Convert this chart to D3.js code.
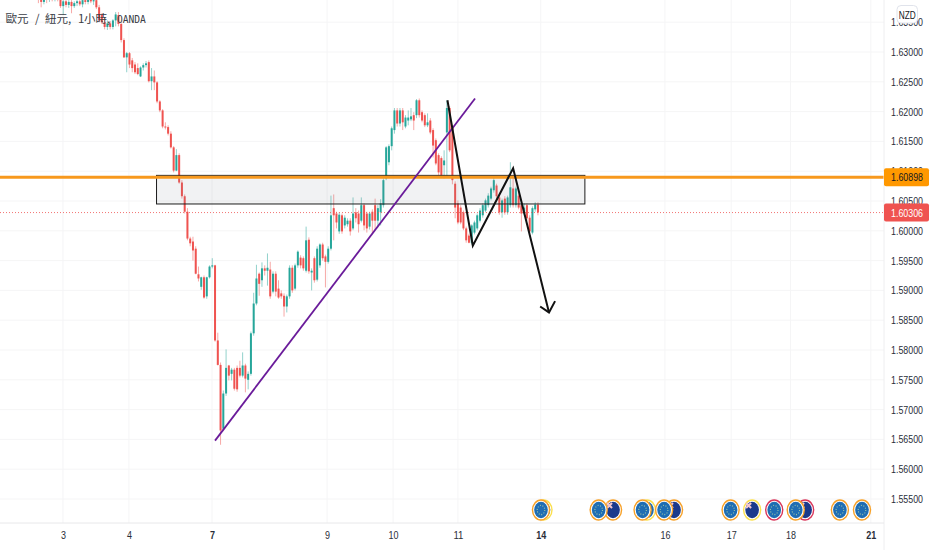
<!DOCTYPE html>
<html>
<head>
<meta charset="utf-8">
<style>
	html, body { margin: 0; padding: 0; background: #fff; overflow: hidden; }
	svg { display: block; }
	text { font-family: "Liberation Sans", sans-serif; }
</style>
<script src="https://cdn.jsdelivr.net/npm/d3@7"></script>
</head>
<body>
<div id="container"></div>
<script>
var titleParts = ["歐元", "/", "紐元,", "1", "小時,", "OANDA"];
var currency = "NZD";

var opens = [
	1.6397,1.6390,1.6384,1.6392,1.6389,1.6394,1.6390,1.6395,1.6392,1.6377,
	1.6385,1.6379,1.6384,1.6377,1.6382,1.6385,1.6380,1.6387,1.6384,1.6389,
	1.6385,1.6387,1.6375,1.6362,1.6350,1.6342,1.6348,1.6342,1.6353,1.6362,
	1.6347,1.6320,1.6291,1.6298,1.6286,1.6279,1.6273,1.6259,1.6274,1.6278,
	1.6283,1.6251,1.6259,1.6249,1.6217,1.6202,1.6175,1.6174,1.6163,1.6140,
	1.6101,1.6127,1.6081,1.6058,1.6032,1.5987,1.5982,1.5970,1.5927,1.5906,
	1.5922,1.5890,1.5922,1.5940,1.5942,1.5816,1.5775,1.5668,1.5727,1.5774,
	1.5760,1.5767,1.5770,1.5770,1.5757,1.5774,1.5750,1.5760,1.5828,1.5878,
	1.5928,1.5917,1.5937,1.5933,1.5935,1.5898,1.5928,1.5903,1.5895,1.5891,
	1.5873,1.5890,1.5938,1.5903,1.5942,1.5955,1.5954,1.5933,1.5985,1.5930,
	1.5954,1.5918,1.5942,1.5977,1.5957,1.5948,1.5970,1.6038,1.6029,1.5999,
	1.6026,1.6009,1.6011,1.6017,1.6004,1.6031,1.6029,1.6017,1.6043,1.6029,
	1.6007,1.6032,1.6043,1.6017,1.6031,1.6043,1.6088,1.6115,1.6142,1.6169,
	1.6202,1.6180,1.6202,1.6175,1.6185,1.6187,1.6194,1.6194,1.6219,1.6199,
	1.6194,1.6177,1.6185,1.6169,1.6152,1.6127,1.6122,1.6110,1.6165,1.6206,
	1.6174,1.6079,1.6046,1.6039,1.6031,1.6004,1.5992,1.5980,1.5997,1.6004,
	1.6017,1.6026,1.6034,1.6043,1.6054,1.6068,1.6076,1.6056,1.6031,1.6054,
	1.6031,1.6043,1.6071,1.6043,1.6059,1.6043,1.6029,1.6043,1.6022,1.5997,1.6036,1.6044
];
var closes = [
	1.6390,1.6384,1.6392,1.6389,1.6394,1.6390,1.6395,1.6392,1.6377,1.6385,
	1.6379,1.6384,1.6377,1.6382,1.6385,1.6380,1.6387,1.6384,1.6389,1.6385,
	1.6387,1.6375,1.6353,1.6350,1.6342,1.6348,1.6342,1.6353,1.6363,1.6347,
	1.6320,1.6291,1.6298,1.6279,1.6273,1.6266,1.6263,1.6274,1.6278,1.6281,
	1.6251,1.6259,1.6249,1.6217,1.6202,1.6175,1.6174,1.6163,1.6140,1.6101,
	1.6127,1.6081,1.6058,1.6032,1.5987,1.5979,1.5967,1.5928,1.5920,1.5922,
	1.5888,1.5922,1.5940,1.5942,1.5816,1.5775,1.5665,1.5727,1.5770,1.5757,
	1.5767,1.5735,1.5734,1.5757,1.5774,1.5752,1.5760,1.5828,1.5878,1.5920,
	1.5911,1.5937,1.5933,1.5938,1.5890,1.5928,1.5898,1.5888,1.5890,1.5873,
	1.5890,1.5938,1.5900,1.5942,1.5965,1.5942,1.5937,1.5984,1.5932,1.5933,
	1.5917,1.5970,1.5977,1.5954,1.5948,1.5970,1.6026,1.6026,1.6014,1.6027,
	1.5999,1.6022,1.6017,1.5999,1.6029,1.6021,1.6011,1.6043,1.6009,1.6004,
	1.6029,1.6017,1.6017,1.6038,1.6046,1.6085,1.6140,1.6142,1.6172,1.6202,
	1.6180,1.6202,1.6182,1.6190,1.6190,1.6192,1.6185,1.6219,1.6194,1.6185,
	1.6177,1.6182,1.6165,1.6143,1.6113,1.6098,1.6093,1.6118,1.6206,1.6135,
	1.6085,1.6039,1.6014,1.6014,1.6004,1.5984,1.5980,1.6009,1.6014,1.6026,
	1.6034,1.6043,1.6051,1.6059,1.6071,1.6085,1.6058,1.6031,1.6051,1.6031,
	1.6056,1.6073,1.6043,1.6071,1.6039,1.6029,1.6039,1.6021,1.5999,1.6038,1.6044,1.60306
];
var highs = [
	1.6402,1.6395,1.6395,1.6397,1.6400,1.6399,1.6400,1.6399,1.6395,1.6389,
	1.6389,1.6387,1.6387,1.6385,1.6390,1.6389,1.6390,1.6392,1.6392,1.6394,
	1.6390,1.6390,1.6379,1.6365,1.6357,1.6353,1.6352,1.6355,1.6367,1.6367,
	1.6350,1.6323,1.6300,1.6300,1.6290,1.6283,1.6281,1.6276,1.6281,1.6285,
	1.6286,1.6273,1.6269,1.6251,1.6219,1.6204,1.6182,1.6177,1.6167,1.6142,
	1.6137,1.6130,1.6085,1.6061,1.6038,1.5990,1.5990,1.5974,1.5940,1.5923,
	1.5925,1.5923,1.5942,1.5954,1.5943,1.5829,1.5779,1.5732,1.5801,1.5775,
	1.5770,1.5770,1.5774,1.5782,1.5796,1.5777,1.5764,1.5831,1.5896,1.5943,
	1.5930,1.5947,1.5942,1.5962,1.5948,1.5932,1.5932,1.5917,1.5900,1.5895,
	1.5893,1.5942,1.5942,1.5945,1.5967,1.5959,1.5957,1.6007,1.5989,1.5937,
	1.5957,1.5974,1.5979,1.5980,1.5960,1.5974,1.6059,1.6061,1.6032,1.6031,
	1.6029,1.6026,1.6021,1.6021,1.6056,1.6038,1.6034,1.6056,1.6046,1.6032,
	1.6032,1.6036,1.6054,1.6043,1.6053,1.6088,1.6142,1.6145,1.6175,1.6206,
	1.6206,1.6206,1.6206,1.6194,1.6202,1.6206,1.6199,1.6221,1.6222,1.6202,
	1.6197,1.6197,1.6189,1.6172,1.6155,1.6130,1.6125,1.6135,1.6219,1.6209,
	1.6177,1.6083,1.6051,1.6043,1.6034,1.6007,1.5995,1.6011,1.6017,1.6029,
	1.6038,1.6046,1.6054,1.6063,1.6074,1.6090,1.6079,1.6059,1.6054,1.6058,
	1.6059,1.6115,1.6091,1.6074,1.6063,1.6046,1.6046,1.6046,1.6026,1.6041,1.6048,1.6048
];
var lows = [
	1.6382,1.6375,1.6380,1.6382,1.6384,1.6385,1.6385,1.6385,1.6374,1.6362,
	1.6375,1.6374,1.6365,1.6374,1.6377,1.6377,1.6375,1.6380,1.6380,1.6382,
	1.6379,1.6372,1.6350,1.6347,1.6338,1.6337,1.6338,1.6338,1.6343,1.6343,
	1.6316,1.6290,1.6266,1.6273,1.6266,1.6263,1.6261,1.6258,1.6269,1.6274,
	1.6249,1.6236,1.6236,1.6214,1.6199,1.6172,1.6170,1.6160,1.6138,1.6098,
	1.6100,1.6079,1.6054,1.6029,1.5984,1.5974,1.5950,1.5927,1.5915,1.5901,
	1.5886,1.5886,1.5920,1.5937,1.5814,1.5774,1.5641,1.5665,1.5723,1.5749,
	1.5749,1.5732,1.5730,1.5754,1.5754,1.5729,1.5734,1.5757,1.5824,1.5875,
	1.5891,1.5906,1.5925,1.5908,1.5886,1.5895,1.5890,1.5886,1.5886,1.5856,
	1.5863,1.5886,1.5896,1.5900,1.5938,1.5937,1.5933,1.5930,1.5928,1.5900,
	1.5913,1.5915,1.5938,1.5950,1.5905,1.5945,1.5967,1.5984,1.6004,1.5995,
	1.5995,1.6004,1.6007,1.5992,1.6001,1.6014,1.5997,1.6014,1.6001,1.5997,
	1.6002,1.5995,1.6001,1.6006,1.6009,1.6039,1.6085,1.6110,1.6135,1.6163,
	1.6175,1.6175,1.6169,1.6172,1.6177,1.6184,1.6169,1.6189,1.6190,1.6182,
	1.6174,1.6174,1.6162,1.6123,1.6110,1.6093,1.6091,1.6088,1.6091,1.6132,
	1.6078,1.6021,1.6011,1.6011,1.6001,1.5980,1.5979,1.5977,1.5994,1.6001,
	1.6014,1.6022,1.6031,1.6039,1.6051,1.6064,1.6054,1.6027,1.6022,1.6027,
	1.6027,1.6039,1.6039,1.6039,1.6036,1.5999,1.6026,1.6017,1.5995,1.5994,1.6032,1.6026
];

var priceTicks = [1.635,1.63,1.625,1.62,1.615,1.61,1.605,1.6,1.595,1.59,1.585,1.58,1.575,1.57,1.565,1.56,1.555];
var dayLabels = ["3","4","7","9","10","11","14","16","17","18","21"];
var dayBars = [8.9,32.8,62.9,104.6,128.5,152,182,227,251,272.5,301.6];
var boldDays = ["7","14","21"];

var levelPrice = 1.60898;
var lastPrice = 1.60306;
var zoneBars = [42.8,198];
var zonePrices = [1.6093,1.6045];
var trendBars = [64,158.2];
var trendPrices = [1.5648,1.6222];
var waveBars = [148.2,157.4,172,185];
var wavePrices = [1.6219,1.5975,1.6105,1.5863];
var arrowBars = [181.8,185,187.2];
var arrowPrices = [1.5873,1.5863,1.5882];

var eventBars = [183,182.1,208.2,203,220.5,218.9,230.3,226.7,250.8,258.6,266.6,277.8,274.4,290.4,298.4];
var eventKinds = ["eu","eu","nz","eu","eu","eu","nz","eu","eu","nz","eu","nz","eu","eu","eu"];
var eventImpact = ["low","mid","mid","mid","low","mid","mid","mid","mid","low","high","high","mid","mid","mid"];

var w = 932, h = 550, paneRight = 884, paneBottom = 523;
var up = "#26a69a", down = "#ef5350";
var impactColor = { low: "#fbe04e", mid: "#f7a128", high: "#d9365a" };
var titleX = [5.5, 35, 45, 78, 84, 117];

var x = d3.scaleLinear().domain([-14,307]).range([-0.24,885.72]);
var y = d3.scaleLinear().domain([1.555,1.63]).range([499,52]);

var svg = d3.select("#container")
	.append("svg")
	.attr("width", w)
	.attr("height", h)
	.attr("viewBox", "0 0 " + w + " " + h);

// grid
svg.append("g").selectAll("line")
	.data(priceTicks)
	.enter()
	.append("line")
	.attr("x1", 0)
	.attr("x2", paneRight)
	.attr("y1", function(d) { return y(d); })
	.attr("y2", function(d) { return y(d); })
	.attr("stroke", "#f5f5f6");
svg.append("g").selectAll("line")
	.data(dayBars)
	.enter()
	.append("line")
	.attr("x1", function(d) { return x(d); })
	.attr("x2", function(d) { return x(d); })
	.attr("y1", 0)
	.attr("y2", paneBottom)
	.attr("stroke", "#f5f5f6");

// candles
var bars = d3.range(opens.length);
var candles = svg.append("g");
candles.selectAll("line")
	.data(bars)
	.enter()
	.append("line")
	.attr("x1", function(i) { return x(i); })
	.attr("x2", function(i) { return x(i); })
	.attr("y1", function(i) { return y(highs[i]); })
	.attr("y2", function(i) { return y(lows[i]); })
	.attr("stroke", function(i) { return closes[i] >= opens[i] ? up : down; })
	.attr("stroke-opacity", 0.5);
candles.selectAll("rect")
	.data(bars)
	.enter()
	.append("rect")
	.attr("x", function(i) { return x(i) - 1; })
	.attr("width", 2)
	.attr("y", function(i) { return y(Math.max(opens[i], closes[i])); })
	.attr("height", function(i) { return Math.max(1, Math.abs(y(opens[i]) - y(closes[i]))); })
	.attr("fill", function(i) { return closes[i] >= opens[i] ? up : down; });

// last price line
svg.append("line")
	.attr("x1", 0)
	.attr("x2", paneRight)
	.attr("y1", y(lastPrice))
	.attr("y2", y(lastPrice))
	.attr("stroke", down)
	.attr("stroke-dasharray", "1 2")
	.attr("stroke-opacity", 0.8);

// drawings
svg.append("rect")
	.attr("x", x(zoneBars[0]))
	.attr("y", y(zonePrices[0]))
	.attr("width", x(zoneBars[1]) - x(zoneBars[0]))
	.attr("height", y(zonePrices[1]) - y(zonePrices[0]))
	.attr("fill", "#787b86")
	.attr("fill-opacity", 0.1)
	.attr("stroke", "#1c1c1c")
	.attr("stroke-width", 1);
svg.append("line")
	.attr("x1", 0)
	.attr("x2", paneRight)
	.attr("y1", y(levelPrice))
	.attr("y2", y(levelPrice))
	.attr("stroke", "#f7981d")
	.attr("stroke-width", 3);

var drawn = d3.line()
	.x(function(d) { return x(d[0]); })
	.y(function(d) { return y(d[1]); });
svg.append("path")
	.attr("d", drawn(d3.zip(trendBars, trendPrices)))
	.attr("fill", "none")
	.attr("stroke", "#6a1b9a")
	.attr("stroke-width", 1.8);
svg.append("path")
	.attr("d", drawn(d3.zip(waveBars, wavePrices)))
	.attr("fill", "none")
	.attr("stroke", "#111")
	.attr("stroke-width", 2);
svg.append("path")
	.attr("d", drawn(d3.zip(arrowBars, arrowPrices)))
	.attr("fill", "none")
	.attr("stroke", "#111")
	.attr("stroke-width", 2);

// title over the candles
svg.append("text")
	.attr("y", 23)
	.attr("fill", "#3a3d46")
	.style("font-family", "'Noto Sans CJK TC', sans-serif")
	.style("font-size", "11.5px")
	.selectAll("tspan")
	.data(titleParts)
	.enter()
	.append("tspan")
	.attr("x", function(d, i) { return titleX[i]; })
	.style("font-family", function(d) { return d == "OANDA" ? "'DejaVu Sans Mono', monospace" : null; })
	.style("font-size", function(d) { return d == "OANDA" ? "9.6px" : null; })
	.text(function(d) { return d; });

// event icons
var events = svg.append("g").selectAll("g")
	.data(eventBars.map(function(d, i) { return i; }))
	.enter()
	.append("g")
	.attr("transform", function(i) { return "translate(" + x(eventBars[i]) + ",510)"; });
events.append("ellipse")
	.attr("rx", 8.5)
	.attr("ry", 10)
	.attr("fill", "#fff")
	.attr("stroke", function(i) { return impactColor[eventImpact[i]]; })
	.attr("stroke-width", 1.4);
events.append("ellipse")
	.attr("rx", 6.8)
	.attr("ry", 8.2)
	.attr("fill", function(i) { return eventKinds[i] == "eu" ? "#1f6db3" : "#1b3a8c"; });
events.filter(function(i) { return eventKinds[i] == "eu"; })
	.append("ellipse")
	.attr("rx", 3.8)
	.attr("ry", 4.6)
	.attr("fill", "none")
	.attr("stroke", "#9cc4a8")
	.attr("stroke-width", 1.1)
	.attr("stroke-dasharray", "1 1.6");
events.filter(function(i) { return eventKinds[i] == "nz"; })
	.append("path")
	.attr("d", "M-6,-7L-1,-2M-1,-7L-6,-2")
	.attr("stroke", "#f4c6cc")
	.attr("stroke-width", 2);

// price axis
svg.append("line")
	.attr("x1", paneRight)
	.attr("x2", paneRight)
	.attr("y1", 0)
	.attr("y2", h)
	.attr("stroke", "#eeeef0");
svg.append("line")
	.attr("x1", 0)
	.attr("x2", paneRight)
	.attr("y1", paneBottom)
	.attr("y2", paneBottom)
	.attr("stroke", "#e8e8ea");

var yAxis = d3.axisRight(y)
	.tickValues(priceTicks)
	.tickSize(0)
	.tickPadding(7)
	.tickFormat(d3.format(".5f"));
var yAxisG = svg.append("g")
	.attr("transform", "translate(" + paneRight + ",0)")
	.call(yAxis);
yAxisG.select(".domain").remove();
yAxisG.selectAll("text")
	.attr("textLength", 32)
	.attr("lengthAdjust", "spacingAndGlyphs")
	.style("font-size", "11px")
	.attr("fill", "#2a2e39");

var xAxis = d3.axisBottom(x)
	.tickValues(dayBars)
	.tickSize(0)
	.tickPadding(8)
	.tickFormat(function(d, i) { return dayLabels[i]; });
var xAxisG = svg.append("g")
	.attr("transform", "translate(0," + paneBottom + ")")
	.call(xAxis);
xAxisG.select(".domain").remove();
xAxisG.selectAll("text")
	.attr("textLength", function(d, i) { return dayLabels[i].length * 5; })
	.attr("lengthAdjust", "spacingAndGlyphs")
	.style("font-size", "11px")
	.style("font-weight", function(d, i) { return boldDays.indexOf(dayLabels[i]) >= 0 ? "bold" : "normal"; })
	.attr("fill", "#2a2e39");

// price tags
var tags = [
	{ price: levelPrice, fill: "#ff9800", ink: "#131722" },
	{ price: lastPrice, fill: "#ef5350", ink: "#fff" }
];
var tag = svg.append("g").selectAll("g")
	.data(tags)
	.enter()
	.append("g")
	.attr("transform", function(d) { return "translate(" + paneRight + "," + y(d.price) + ")"; });
tag.append("rect")
	.attr("x", 0)
	.attr("y", -9)
	.attr("width", 45)
	.attr("height", 18)
	.attr("rx", 2)
	.attr("fill", function(d) { return d.fill; });
tag.append("text")
	.attr("x", 7)
	.attr("y", 4)
	.attr("textLength", 32)
	.attr("lengthAdjust", "spacingAndGlyphs")
	.style("font-size", "11px")
	.attr("fill", function(d) { return d.ink; })
	.text(function(d) { return d.price.toFixed(5); });

// currency button
svg.append("rect")
	.attr("x", 897)
	.attr("y", 5.5)
	.attr("width", 20.5)
	.attr("height", 17.5)
	.attr("rx", 4)
	.attr("fill", "#fff")
	.attr("stroke", "#e0e3eb");
svg.append("text")
	.attr("x", 907.3)
	.attr("y", 18.5)
	.attr("text-anchor", "middle")
	.attr("textLength", 17)
	.attr("lengthAdjust", "spacingAndGlyphs")
	.style("font-size", "11.5px")
	.attr("fill", "#131722")
	.text(currency);
</script>
</body>
</html>
